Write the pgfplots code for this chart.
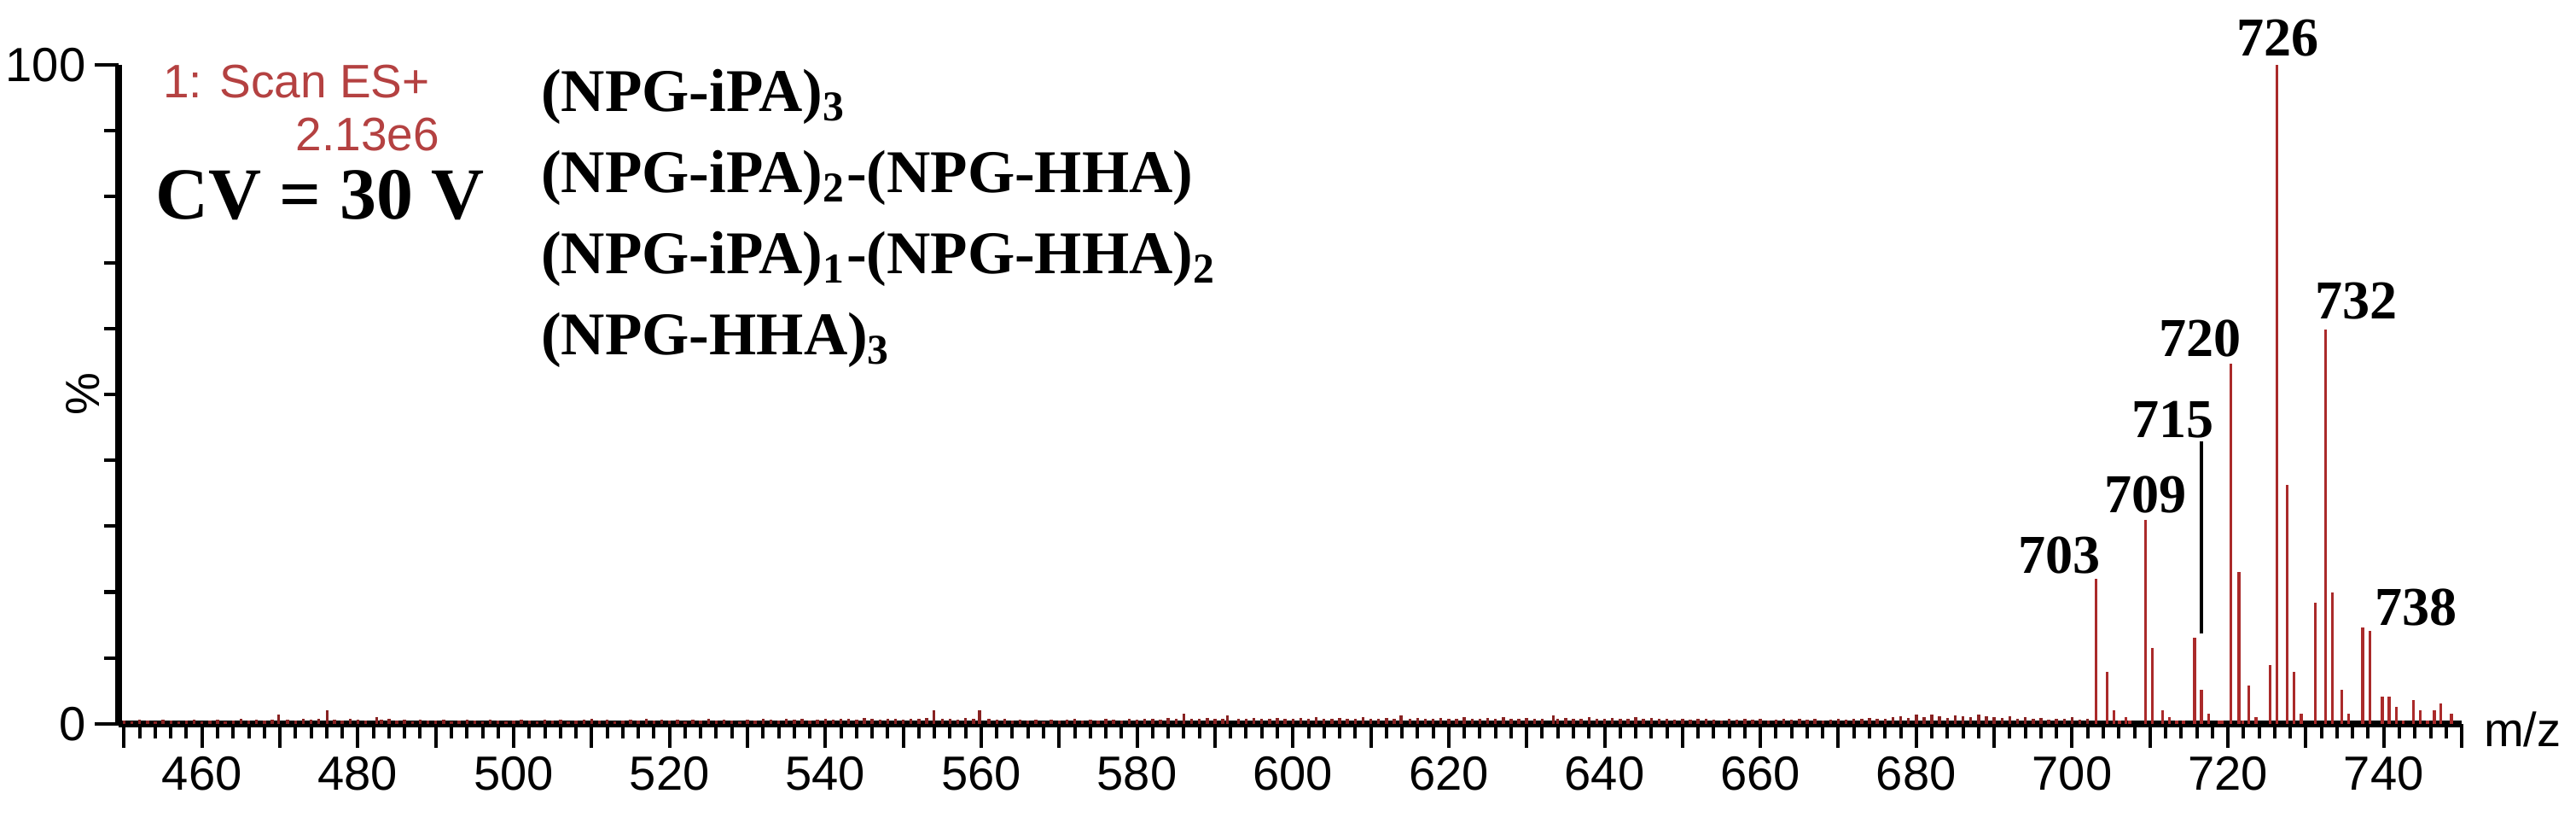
\documentclass[border=0pt]{standalone}
\usepackage{fontspec}
\setmainfont{Liberation Sans}
\newfontfamily\tnr{Liberation Serif}
\usepackage{pgfplots}
\pgfplotsset{compat=1.18}
\definecolor{spec}{RGB}{170,42,42}
\definecolor{scanred}{RGB}{180,65,65}

\begin{document}
\begin{tikzpicture}
\path[use as bounding box] (-0.853,-0.669) rectangle (17.669,5.202);
\begin{axis}[
  at={(0,0)}, anchor=south west,
  scale only axis, width=16.847cm, height=4.736cm,
  xmin=449.3, xmax=750, ymin=0, ymax=100,
  axis lines=left,
  axis line style={-, line width=1.5pt, black},
  tick align=outside,
  major tick length=0.17cm, minor tick length=0.105cm,
  tick style={line width=0.7pt, black},
  xtick={450,460,...,750},
  xticklabels={,460,,480,,500,,520,,540,,560,,580,,600,,620,,640,,660,,680,,700,,720,,740,},
  minor x tick num=4,
  ytick={0,100}, yticklabels={0,100},
  minor ytick={10,20,...,90},
  ticklabel style={font=\fontsize{9.8}{11}\selectfont, inner sep=1.7pt},
  clip=false,
]
% baseline noise 450-702
\addplot[ycomb, spec!80!black, line width=0.6pt] coordinates {
(450,0.5)(451,0.4)(452,0.6)(453,0.5)(454,0.4)(455,0.6)(456,0.5)(457,0.4)(458,0.5)(459,0.6)
(460,0.4)(461,0.5)(462,0.6)(463,0.4)(464,0.5)(465,0.7)(466,0.5)(467,0.6)(468,0.5)(469,0.6)
(469.8,1.4)(471,0.6)(472,0.5)(473,0.8)(474,0.6)(475,0.7)(476.1,2.1)(477,0.6)(478,0.5)(479,0.7)
(480,0.6)(481,0.5)(482.4,1.0)(483,0.6)(484,0.7)(485,0.5)(486,0.6)(487,0.4)(488,0.6)(489,0.5)
(490,0.5)(491,0.6)(492,0.4)(493,0.5)(494,0.6)(495,0.5)(496,0.4)(497,0.6)(498,0.5)(499,0.4)
(500,0.5)(501,0.6)(502,0.5)(503,0.4)(504,0.6)(505,0.5)(506,0.6)(507,0.4)(508,0.5)(509,0.6)
(510,0.7)(511,0.5)(512,0.6)(513,0.4)(514,0.5)(515,0.6)(516,0.5)(517,0.7)(518,0.5)(519,0.6)
(520,0.5)(521,0.6)(522,0.4)(523,0.6)(524,0.5)(525,0.7)(526,0.5)(527,0.6)(528,0.5)(529,0.4)
(530,0.6)(531,0.5)(532,0.7)(533,0.6)(534,0.5)(535,0.8)(536,0.6)(537,0.7)(538,0.5)(539,0.6)
(540,0.7)(541,0.6)(542,0.8)(543,0.7)(544,0.6)(545,0.9)(546,0.7)(547,0.6)(548,0.8)(549,0.7)
(550,0.6)(551,0.8)(552,0.7)(553,0.9)(553.9,2.1)(555,0.8)(556,0.7)(557,0.6)(558,0.9)(559,0.7)
(559.8,2.1)(561,0.8)(562,0.6)(563,0.7)(564,0.5)(565,0.6)(566,0.5)(567,0.6)(568,0.4)(569,0.6)
(570,0.5)(571,0.6)(572,0.7)(573,0.5)(574,0.6)(575,0.5)(576,0.8)(577,0.6)(578,0.5)(579,0.7)
(580,0.6)(581,0.8)(582,0.7)(583,0.6)(584,0.9)(585,0.7)(586,1.6)(587,0.8)(588,0.7)(589,0.9)
(590,0.8)(591,0.7)(591.6,1.3)(593,0.8)(594,0.7)(595,0.9)(596,0.8)(597,0.7)(598,0.9)(599,0.8)
(600,0.7)(601,0.9)(602,0.8)(603,1.0)(604,0.7)(605,0.8)(606,0.9)(607,0.7)(608,0.8)(609,1.0)
(610,0.8)(611,0.7)(612,0.9)(613,0.8)(613.9,1.3)(615,0.8)(616,0.9)(617,0.7)(618,0.8)(619,0.9)
(620,0.7)(621,0.8)(622,1.0)(623,0.8)(624,0.7)(625,0.9)(626,0.8)(627,1.0)(628,0.7)(629,0.8)
(630,0.9)(631,0.8)(632,0.7)(633.4,1.3)(634,0.8)(635,0.9)(636,0.7)(637,0.8)(638,1.0)(639,0.8)
(640,0.7)(641,0.9)(642,0.8)(643,0.7)(644,1.0)(645,0.8)(646,0.9)(647,0.7)(648,0.8)(649,0.6)
(650,0.7)(651,0.6)(652,0.8)(653,0.7)(654,0.6)(655,0.5)(656,0.7)(657,0.6)(658,0.8)(659,0.6)
(660,0.7)(661,0.5)(662,0.6)(663,0.7)(664,0.6)(665,0.8)(666,0.6)(667,0.7)(668,0.5)(669,0.6)
(670,0.7)(671,0.6)(672,0.8)(673,0.7)(674,0.9)(675,0.7)(676,0.8)(677,1.0)(678,1.2)(679,0.9)
(680,1.4)(681,1.0)(682,1.4)(683,1.2)(684,0.9)(685,1.3)(686,1.1)(687,1.0)(688,1.4)(689,1.2)
(690,1.0)(691,0.9)(692,1.1)(693,0.8)(694,1.0)(695,0.7)(696,0.9)(697,0.6)(698,0.8)(699,0.7)
(700,1.0)(701,0.6)(702,0.8)
};
% cluster 703-749
\addplot[ycomb, spec, line width=0.6pt] coordinates {
(703.1,22.0)(704.5,7.9)(705.4,2.1)(706.1,0.5)(706.9,1.0)(707.4,0.5)
(709.4,30.9)(710.3,11.5)(711.6,2.1)(712.5,1.0)(713.4,0.5)(714.3,0.5)
(715.7,13.1)(716.6,5.2)(717.5,1.6)(718.9,0.5)(719.3,0.5)
(720.4,54.6)(721.4,23.1)(721.9,0.5)(722.7,5.8)(723.6,1.0)
(725.4,8.9)(726.3,100)(727.6,36.2)(728.5,7.9)(729.4,1.6)
(731.2,18.4)(732.5,59.8)(733.4,19.9)(734.6,5.2)(735.5,1.6)
(737.3,14.6)(738.2,14.1)(739.8,4.1)(740.7,4.1)(741.6,2.6)(742.5,0.5)
(743.8,3.6)(744.7,2.1)(745.6,0.5)(746.5,2.1)(747.3,3.1)(748.7,1.6)
};
% leader line for 715
\draw[black, line width=0.65pt] (axis cs:716.6,13.7) -- (axis cs:716.6,42.9);
% peak labels
\begin{scope}[every node/.style={anchor=base, inner sep=0pt,
    font=\tnr\bfseries\fontsize{11.2}{13}\selectfont}]
\node at (axis cs:726.4,101.4) {726};
\node at (axis cs:736.5,61.5) {732};
\node at (axis cs:716.4,55.8) {720};
\node at (axis cs:712.9,43.5) {715};
\node at (axis cs:709.4,32.1) {709};
\node at (axis cs:698.4,22.8) {703};
\node at (axis cs:744.1,14.9) {738};
\end{scope}
\end{axis}
% annotations
\node[anchor=base west, inner sep=0pt, text=scanred,
  font=\fontsize{9.6}{11}\selectfont] at (0.313,4.497) {1: Scan ES+};
\node[anchor=base east, inner sep=0pt, text=scanred,
  font=\fontsize{9.6}{11}\selectfont] at (2.313,4.117) {2.13e6};
\node[anchor=base west, inner sep=0pt,
  font=\tnr\bfseries\fontsize{15}{17}\selectfont] at (0.258,3.626) {CV = 30 V};
\begin{scope}[every node/.style={anchor=base west, inner sep=0pt,
    font=\tnr\bfseries\fontsize{12.4}{14}\selectfont}]
\node at (3.031,4.399) {(NPG-iPA)\textsubscript{3}};
\node at (3.031,3.816) {(NPG-iPA)\textsubscript{2}-(NPG-HHA)};
\node at (3.031,3.233) {(NPG-iPA)\textsubscript{1}-(NPG-HHA)\textsubscript{2}};
\node at (3.031,2.650) {(NPG-HHA)\textsubscript{3}};
\end{scope}
\node[rotate=90, inner sep=0pt, font=\fontsize{9.8}{11}\selectfont]
  at (-0.258,2.368) {\%};
\node[anchor=west, inner sep=0pt, font=\fontsize{9.8}{11}\selectfont]
  at (17.0,-0.04) {m/z};
\end{tikzpicture}
\end{document}
